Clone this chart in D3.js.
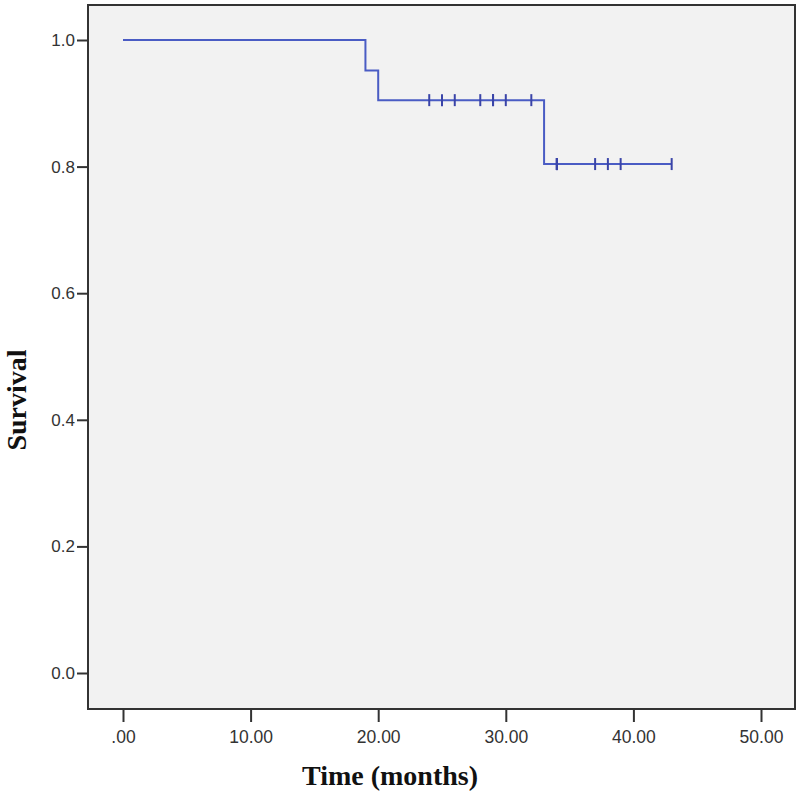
<!DOCTYPE html>
<html>
<head>
<meta charset="utf-8">
<script src="https://cdn.jsdelivr.net/npm/d3@7"></script>
<style>
  body { margin: 0; background: #fff; }
</style>
</head>
<body>
<div id="chart"></div>
<script>
const w = 800, h = 791;

// Kaplan-Meier estimate
const stepTimes = [0, 19, 20, 33];          // time at which each level starts
const survival = [1.0, 0.952, 0.905, 0.804]; // survival level from that time
const lastTime = 43;
const censorTimes = [24, 25, 26, 28, 29, 29, 30, 32, 34, 34, 34, 37, 38, 39, 43];
const xTicks = [0, 10, 20, 30, 40, 50];
const yTicks = [0, 0.2, 0.4, 0.6, 0.8, 1.0];

const frame = {left: 88, top: 5, right: 795, bottom: 709};

const svg = d3.select("#chart")
    .append("svg")
    .attr("width", w)
    .attr("height", h);

const x = d3.scaleLinear([0, 50], [123, 761]);
const y = d3.scaleLinear([0, 1], [673, 40]);

// plot background
svg.append("rect")
    .attr("x", frame.left).attr("y", frame.top)
    .attr("width", frame.right - frame.left)
    .attr("height", frame.bottom - frame.top)
    .attr("fill", "#f2f2f2")
    .attr("stroke", "#333")
    .attr("stroke-width", 2);

// axes
const xAxis = svg.append("g")
    .attr("transform", `translate(0,${frame.bottom})`)
    .call(d3.axisBottom(x).tickValues(xTicks).tickSize(13).tickSizeOuter(0)
        .tickFormat(d => d === 0 ? ".00" : d3.format(".2f")(d)));
xAxis.select(".domain").remove();
xAxis.selectAll("line").attr("stroke", "#333").attr("stroke-width", 2);
xAxis.selectAll("text")
    .attr("dy", "1.05em")
    .style("font-family", "Liberation Sans, Arial, sans-serif")
    .style("font-size", "17.5px")
    .attr("fill", "#333");

const yAxis = svg.append("g")
    .attr("transform", `translate(${frame.left},0)`)
    .call(d3.axisLeft(y).tickValues(yTicks).tickSize(11).tickSizeOuter(0)
        .tickFormat(d3.format(".1f")));
yAxis.select(".domain").remove();
yAxis.selectAll("line").attr("stroke", "#333").attr("stroke-width", 2);
yAxis.selectAll("text")
    .attr("x", -13)
    .style("font-family", "Liberation Sans, Arial, sans-serif")
    .style("font-size", "17px")
    .attr("fill", "#333");

// survival step line
const pts = stepTimes.map((t, i) => [t, survival[i]]);
pts.push([lastTime, survival[survival.length - 1]]);

svg.append("path")
    .datum(pts)
    .attr("fill", "none")
    .attr("stroke", "#4a5cc4")
    .attr("stroke-width", 2)
    .attr("d", d3.line().x(d => x(d[0])).y(d => y(d[1])).curve(d3.curveStepAfter));

// censor marks
const survAt = t => survival[d3.bisectRight(stepTimes, t) - 1];
svg.append("g")
    .selectAll("line")
    .data(censorTimes)
    .join("line")
    .attr("x1", d => x(d)).attr("x2", d => x(d))
    .attr("y1", d => y(survAt(d)) - 6)
    .attr("y2", d => y(survAt(d)) + 6)
    .attr("stroke", "#3a44a8")
    .attr("stroke-width", 2);

// axis titles
svg.append("text")
    .attr("x", 390).attr("y", 785)
    .attr("text-anchor", "middle")
    .style("font-family", "Liberation Serif, Times New Roman, serif")
    .style("font-weight", "bold")
    .style("font-size", "28px")
    .attr("fill", "#111")
    .text("Time (months)");

svg.append("text")
    .attr("transform", "translate(26,400) rotate(-90)")
    .attr("text-anchor", "middle")
    .style("font-family", "Liberation Serif, Times New Roman, serif")
    .style("font-weight", "bold")
    .style("font-size", "28px")
    .attr("fill", "#111")
    .text("Survival");
</script>
</body>
</html>
